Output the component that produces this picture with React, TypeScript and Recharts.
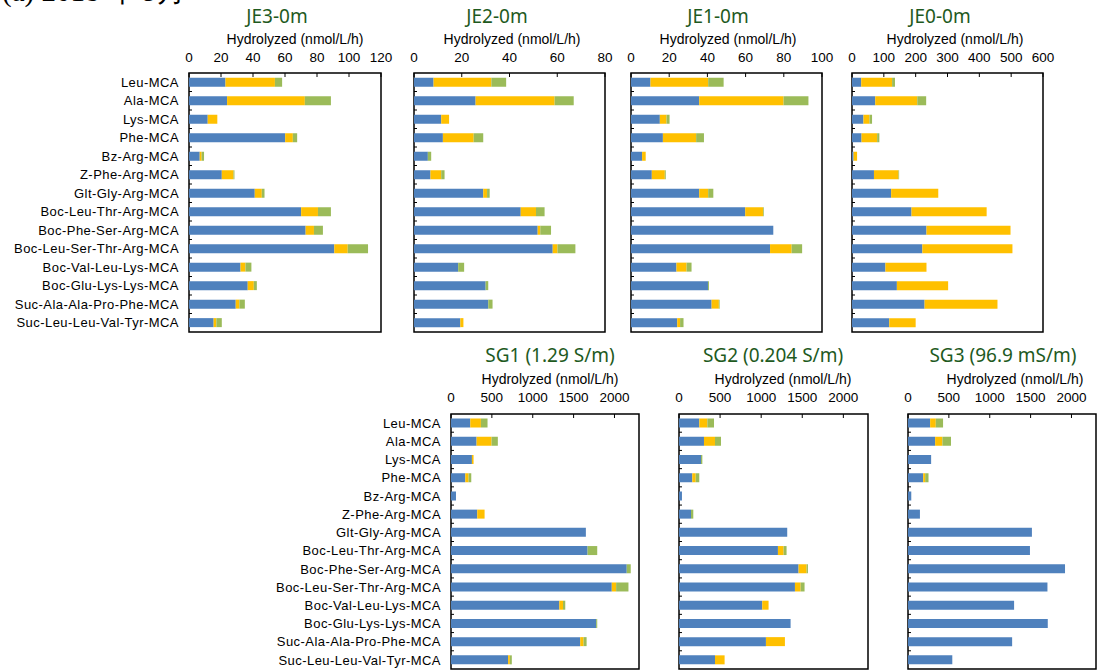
import React from 'react';
import { BarChart, Bar, XAxis, YAxis, ReferenceArea } from 'recharts';

const categories = [
  'Leu-MCA', 'Ala-MCA', 'Lys-MCA', 'Phe-MCA', 'Bz-Arg-MCA', 'Z-Phe-Arg-MCA', 'Glt-Gly-Arg-MCA',
  'Boc-Leu-Thr-Arg-MCA', 'Boc-Phe-Ser-Arg-MCA', 'Boc-Leu-Ser-Thr-Arg-MCA', 'Boc-Val-Leu-Lys-MCA',
  'Boc-Glu-Lys-Lys-MCA', 'Suc-Ala-Ala-Pro-Phe-MCA', 'Suc-Leu-Leu-Val-Tyr-MCA',
];

const je3Blue = [22.8, 23.8, 11.7, 60.1, 6.7, 20.5, 41.1, 70.1, 72.9, 90.8, 32.2, 36.7, 29.2, 15.4];
const je3Yellow = [30.9, 48.6, 6.0, 4.8, 1.2, 7.3, 4.4, 10.5, 5.2, 8.4, 3.1, 3.8, 2.3, 1.7];
const je3Green = [4.5, 16.3, 0, 2.7, 1.5, 0.6, 1.7, 8.1, 5.6, 12.7, 3.7, 1.9, 3.4, 3.4];

const je2Blue = [8.2, 25.8, 11.4, 12.1, 5.8, 6.9, 29.0, 44.7, 51.8, 58.1, 18.5, 30.0, 31.1, 19.4];
const je2Yellow = [24.2, 33.1, 3.3, 12.9, 0, 4.5, 1.6, 6.4, 1.1, 2.0, 0, 0, 0, 1.3];
const je2Green = [6.2, 8.0, 0, 4.0, 1.4, 1.4, 1.1, 3.6, 4.5, 7.5, 2.5, 1.1, 1.8, 0];

const je1Blue = [10.2, 35.7, 15.1, 16.7, 5.8, 10.9, 35.7, 59.8, 74.5, 72.8, 23.8, 40.3, 42.2, 24.2];
const je1Yellow = [30.2, 44.2, 3.5, 17.4, 1.9, 6.8, 4.7, 9.3, 0, 11.3, 5.3, 0, 3.8, 1.5];
const je1Green = [8.1, 13.0, 1.6, 4.1, 0, 0.5, 2.7, 0.4, 0, 5.5, 2.6, 0.5, 0.4, 1.8];

const je0Blue = [29, 73, 36, 30, 5, 69, 123, 187, 234, 221, 105, 141, 228, 117];
const je0Yellow = [97, 132, 19, 49, 11, 77, 148, 236, 264, 283, 129, 161, 229, 83];
const je0Green = [9, 28, 8, 7, 0, 2, 0, 0, 0, 0, 0, 0, 0, 0];

const sg1Blue = [236, 313, 256, 175, 61, 321, 1650, 1671, 2150, 1967, 1325, 1776, 1581, 699];
const sg1Yellow = [130, 183, 20, 40, 0, 90, 0, 0, 0, 53, 45, 0, 41, 21];
const sg1Green = [81, 77, 0, 33, 0, 0, 0, 118, 49, 151, 28, 13, 37, 24];

const sg2Blue = [247, 304, 268, 162, 36, 146, 1317, 1204, 1455, 1411, 1013, 1358, 1058, 438];
const sg2Yellow = [98, 134, 0, 41, 0, 0, 0, 69, 98, 69, 77, 0, 231, 117];
const sg2Green = [81, 73, 16, 44, 0, 28, 0, 36, 16, 48, 0, 0, 0, 0];

const sg3Blue = [271, 332, 283, 186, 40, 146, 1516, 1492, 1921, 1706, 1298, 1710, 1274, 542];
const sg3Yellow = [69, 89, 0, 24, 0, 0, 0, 0, 0, 0, 0, 0, 0, 0];
const sg3Green = [89, 105, 0, 41, 0, 0, 0, 0, 0, 0, 0, 0, 0, 0];

const je3Ticks = [0, 20, 40, 60, 80, 100, 120];
const je2Ticks = [0, 20, 40, 60, 80];
const je1Ticks = [0, 20, 40, 60, 80, 100];
const je0Ticks = [0, 100, 200, 300, 400, 500, 600];
const sgTicks = [0, 500, 1000, 1500, 2000];
const sgMax = 2300;

const panelTitles = ['JE3-0m', 'JE2-0m', 'JE1-0m', 'JE0-0m', 'SG1 (1.29 S/m)', 'SG2 (0.204 S/m)', 'SG3 (96.9 mS/m)'];
const axisTitle = 'Hydrolyzed (nmol/L/h)';
const headerText = '(a) 2018 年 9月';

const BLUE = '#4F81BD';
const YELLOW = '#FFC000';
const GREEN = '#9BBB59';
const TITLE_GREEN = '#1E5A1E';

const buildData = (b: number[], y: number[], g: number[]) =>
  categories.map((name, i) => ({ name, blue: b[i], yellow: y[i], green: g[i] }));

type PanelProps = {
  blue: number[];
  yellow: number[];
  green: number[];
  ticks: number[];
  max: number;
  plotLeft: number;
  plotTop: number;
  plotW: number;
  plotH: number;
  showLabels: boolean;
  tickMargin: number;
};

const RIGHT_PAD = 22;

const Panel = (p: PanelProps) => {
  const data = buildData(p.blue, p.yellow, p.green);
  const yw = p.showLabels ? p.plotLeft : 10;
  const xh = 30;
  const left = p.plotLeft - yw;
  const top = p.plotTop - xh;
  const band = p.plotH / categories.length;
  const n = categories.length;

  const xTick = (props: any) => {
    const { x, y, payload } = props;
    const py = y + p.tickMargin;
    return (
      <g>
        <text x={x} y={y} textAnchor="middle" fontSize={13.5} fill="#000" fontFamily="'Liberation Sans', Arial, sans-serif">
          {payload.value}
        </text>
        <line x1={x} x2={x} y1={py} y2={py + 4} stroke="#000" strokeWidth={1} />
      </g>
    );
  };

  const yTick = (props: any) => {
    const { x, y, payload, index } = props;
    const px = x + 10;
    return (
      <g>
        {p.showLabels && (
          <text x={x} y={y} dy="0.36em" textAnchor="end" fontSize={13} letterSpacing={0.45} fill="#000" fontFamily="'Liberation Sans', Arial, sans-serif">
            {payload.value}
          </text>
        )}
        {index < n - 1 && (
          <line x1={px} x2={px + 3} y1={y + band / 2} y2={y + band / 2} stroke="#000" strokeWidth={1} />
        )}
      </g>
    );
  };

  return (
    <div style={{ position: 'absolute', left, top }}>
      <BarChart
        width={yw + p.plotW + RIGHT_PAD}
        height={xh + p.plotH + 2}
        data={data}
        layout="vertical"
        barCategoryGap="25%"
        margin={{ top: 0, left: 0, right: RIGHT_PAD, bottom: 2 }}
      >
        <XAxis
          type="number"
          domain={[0, p.max]}
          ticks={p.ticks}
          orientation="top"
          height={xh}
          axisLine={false}
          tickLine={false}
          tickSize={0}
          tickMargin={p.tickMargin}
          tick={xTick}
          interval={0}
          allowDataOverflow
        />
        <YAxis
          type="category"
          dataKey="name"
          width={yw}
          axisLine={false}
          tickLine={false}
          tickSize={0}
          tickMargin={10}
          tick={yTick}
          interval={0}
        />
        <Bar dataKey="blue" stackId="s" fill={BLUE} isAnimationActive={false} />
        <Bar dataKey="yellow" stackId="s" fill={YELLOW} isAnimationActive={false} />
        <Bar dataKey="green" stackId="s" fill={GREEN} isAnimationActive={false} />
        <ReferenceArea
          x1={0}
          x2={p.max}
          y1={categories[0]}
          y2={categories[n - 1]}
          fill="none"
          stroke="#000"
          strokeWidth={1.5}
          ifOverflow="visible"
        />
      </BarChart>
    </div>
  );
};

const Label = ({ x, y, text, size, color, family }: { x: number; y: number; text: string; size: number; color: string; family: string }) => (
  <div
    style={{
      position: 'absolute',
      left: x,
      top: y,
      transform: 'translate(-50%, -50%)',
      whiteSpace: 'nowrap',
      fontSize: size,
      color,
      fontFamily: family,
      lineHeight: 1,
    }}
  >
    {text}
  </div>
);

const TITLE_FONT = "'Noto Sans', sans-serif";
const AXIS_FONT = "'Liberation Sans', Arial, sans-serif";

export default function App() {
  return (
    <div style={{ position: 'absolute', left: 0, top: 0, width: 1097, height: 670, overflow: 'hidden', background: '#fff' }}>
      <div style={{ position: 'absolute', left: 2, top: -23, fontSize: 29, fontFamily: "'Liberation Serif', serif", whiteSpace: 'nowrap', lineHeight: 1 }}>
        {headerText}
      </div>

      <Label x={277} y={16} text={panelTitles[0]} size={19} color={TITLE_GREEN} family={TITLE_FONT} />
      <Label x={295} y={39} text={axisTitle} size={14} color="#000" family={AXIS_FONT} />
      <Label x={497} y={16} text={panelTitles[1]} size={19} color={TITLE_GREEN} family={TITLE_FONT} />
      <Label x={512} y={39} text={axisTitle} size={14} color="#000" family={AXIS_FONT} />
      <Label x={718} y={16} text={panelTitles[2]} size={19} color={TITLE_GREEN} family={TITLE_FONT} />
      <Label x={728} y={39} text={axisTitle} size={14} color="#000" family={AXIS_FONT} />
      <Label x={940} y={16} text={panelTitles[3]} size={19} color={TITLE_GREEN} family={TITLE_FONT} />
      <Label x={955} y={39} text={axisTitle} size={14} color="#000" family={AXIS_FONT} />

      <Label x={550} y={355} text={panelTitles[4]} size={19} color={TITLE_GREEN} family={TITLE_FONT} />
      <Label x={550} y={379} text={axisTitle} size={14} color="#000" family={AXIS_FONT} />
      <Label x={773} y={355} text={panelTitles[5]} size={19} color={TITLE_GREEN} family={TITLE_FONT} />
      <Label x={783} y={379} text={axisTitle} size={14} color="#000" family={AXIS_FONT} />
      <Label x={1003} y={355} text={panelTitles[6]} size={19} color={TITLE_GREEN} family={TITLE_FONT} />
      <Label x={1015} y={379} text={axisTitle} size={14} color="#000" family={AXIS_FONT} />

      <Panel blue={je3Blue} yellow={je3Yellow} green={je3Green} ticks={je3Ticks} max={120} plotLeft={189} plotTop={73} plotW={192} plotH={259} showLabels tickMargin={11} />
      <Panel blue={je2Blue} yellow={je2Yellow} green={je2Green} ticks={je2Ticks} max={80} plotLeft={414} plotTop={73} plotW={191} plotH={259} showLabels={false} tickMargin={11} />
      <Panel blue={je1Blue} yellow={je1Yellow} green={je1Green} ticks={je1Ticks} max={100} plotLeft={631} plotTop={73} plotW={191} plotH={259} showLabels={false} tickMargin={11} />
      <Panel blue={je0Blue} yellow={je0Yellow} green={je0Green} ticks={je0Ticks} max={600} plotLeft={852} plotTop={73} plotW={191} plotH={259} showLabels={false} tickMargin={11} />

      <Panel blue={sg1Blue} yellow={sg1Yellow} green={sg1Green} ticks={sgTicks} max={sgMax} plotLeft={451} plotTop={414} plotW={188} plotH={255} showLabels tickMargin={12} />
      <Panel blue={sg2Blue} yellow={sg2Yellow} green={sg2Green} ticks={sgTicks} max={sgMax} plotLeft={679} plotTop={414} plotW={189} plotH={255} showLabels={false} tickMargin={12} />
      <Panel blue={sg3Blue} yellow={sg3Yellow} green={sg3Green} ticks={sgTicks} max={sgMax} plotLeft={908} plotTop={414} plotW={188} plotH={255} showLabels={false} tickMargin={12} />
    </div>
  );
}
